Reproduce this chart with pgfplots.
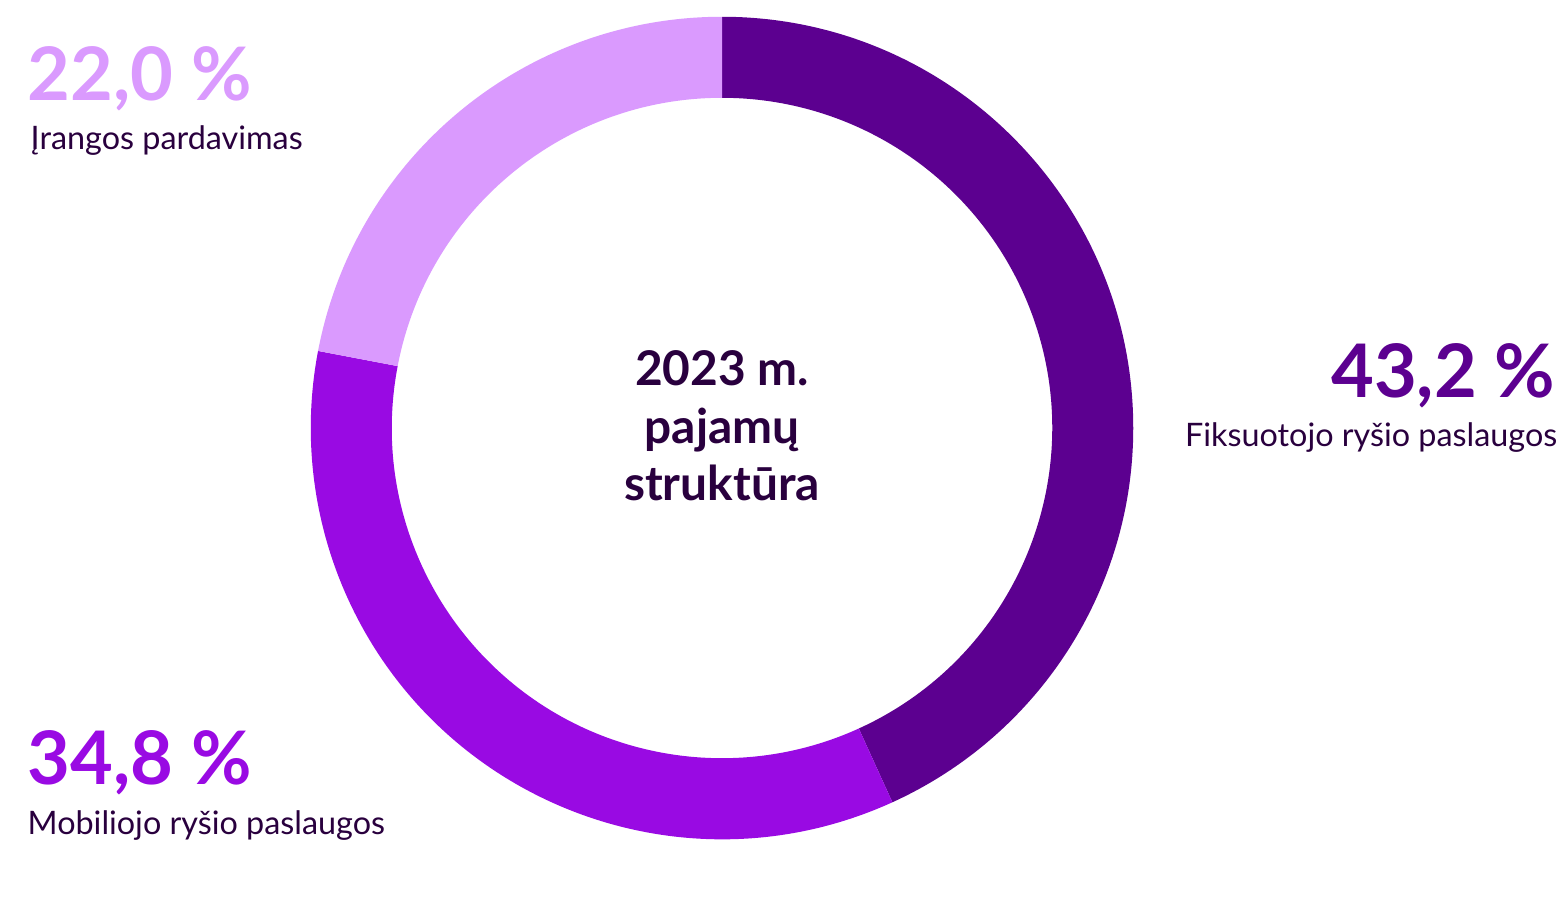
\documentclass[border=0pt]{standalone}
\usepackage{pgfplots}
\usepackage{pgfplotstable}
\pgfplotsset{compat=1.18}
\usepackage{fontspec}
\setmainfont{Lato}
\definecolor{deep}{HTML}{5C0090}
\definecolor{core}{HTML}{990AE3}
\definecolor{light}{HTML}{DA9AFE}
\definecolor{ink}{HTML}{29003E}

% pajamu strukturos dalys, proc.
\pgfplotstableread{
share
43.2
34.8
22.0
}\sharetable

\pgfplotstablegetelem{0}{share}\of\sharetable \let\shA\pgfplotsretval
\pgfplotstablegetelem{1}{share}\of\sharetable \let\shB\pgfplotsretval
\pgfplotstablegetelem{2}{share}\of\sharetable \let\shC\pgfplotsretval
% kampai, pradedant nuo virsaus pagal laikrodzio rodykle
\pgfmathsetmacro\aA{90}
\pgfmathsetmacro\aB{90-3.6*\shA}
\pgfmathsetmacro\aC{\aB-3.6*\shB}
\pgfmathsetmacro\aD{\aC-3.6*\shC}

\newcommand{\seg}[3]{%
  \fill[#1] (axis cs:722,414) ++(#2:4.11cm)
    arc[start angle=#2, end angle=#3, radius=4.11cm]
    -- ++(#3+180:0.81cm)
    arc[start angle=#3, end angle=#2, radius=3.30cm] -- cycle;}
\newcommand{\pct}[1]{\pgfmathprintnumber[use comma,fixed,fixed zerofill,precision=1,assume math mode=true]{#1}\hspace{0.24em}\%}

\begin{document}
\begin{tikzpicture}
\begin{axis}[
    x=0.01cm, y=0.01cm,
    xmin=0, xmax=1568, ymin=0, ymax=842,
    hide axis, clip=false,
  ]
  \path (axis cs:0,0) rectangle (axis cs:1568,842);
  \seg{deep}{\aA}{\aB}
  \seg{core}{\aB}{\aC}
  \seg{light}{\aC}{\aD}

  % centras
  \node[anchor=base, inner sep=0pt, text=ink, font=\fontsize{13.6}{15}\selectfont\bfseries]
    at (axis cs:722,457) {2023 m.};
  \node[anchor=base, inner sep=0pt, text=ink, font=\fontsize{13.6}{15}\selectfont\bfseries]
    at (axis cs:722,399) {pajamų};
  \node[anchor=base, inner sep=0pt, text=ink, font=\fontsize{13.6}{15}\selectfont\bfseries]
    at (axis cs:722,342) {struktūra};

  % etiketes
  \node[anchor=base west, inner sep=0pt, text=light, font=\fontsize{21}{23}\selectfont\bfseries]
    at (axis cs:27,741) {\pct{\shC}};
  \node[anchor=base west, inner sep=0pt, text=ink, font=\fontsize{9.2}{11}\selectfont]
    at (axis cs:30,692) {Įrangos pardavimas};

  \node[anchor=base east, inner sep=0pt, text=deep, font=\fontsize{21}{23}\selectfont\bfseries]
    at (axis cs:1556,445) {\pct{\shA}};
  \node[anchor=base east, inner sep=0pt, text=ink, font=\fontsize{9.2}{11}\selectfont]
    at (axis cs:1558,396) {Fiksuotojo ryšio paslaugos};

  \node[anchor=base west, inner sep=0pt, text=core, font=\fontsize{21}{23}\selectfont\bfseries]
    at (axis cs:27,58) {\pct{\shB}};
  \node[anchor=base west, inner sep=0pt, text=ink, font=\fontsize{9.2}{11}\selectfont]
    at (axis cs:27,8) {Mobiliojo ryšio paslaugos};
\end{axis}
\end{tikzpicture}
\end{document}
